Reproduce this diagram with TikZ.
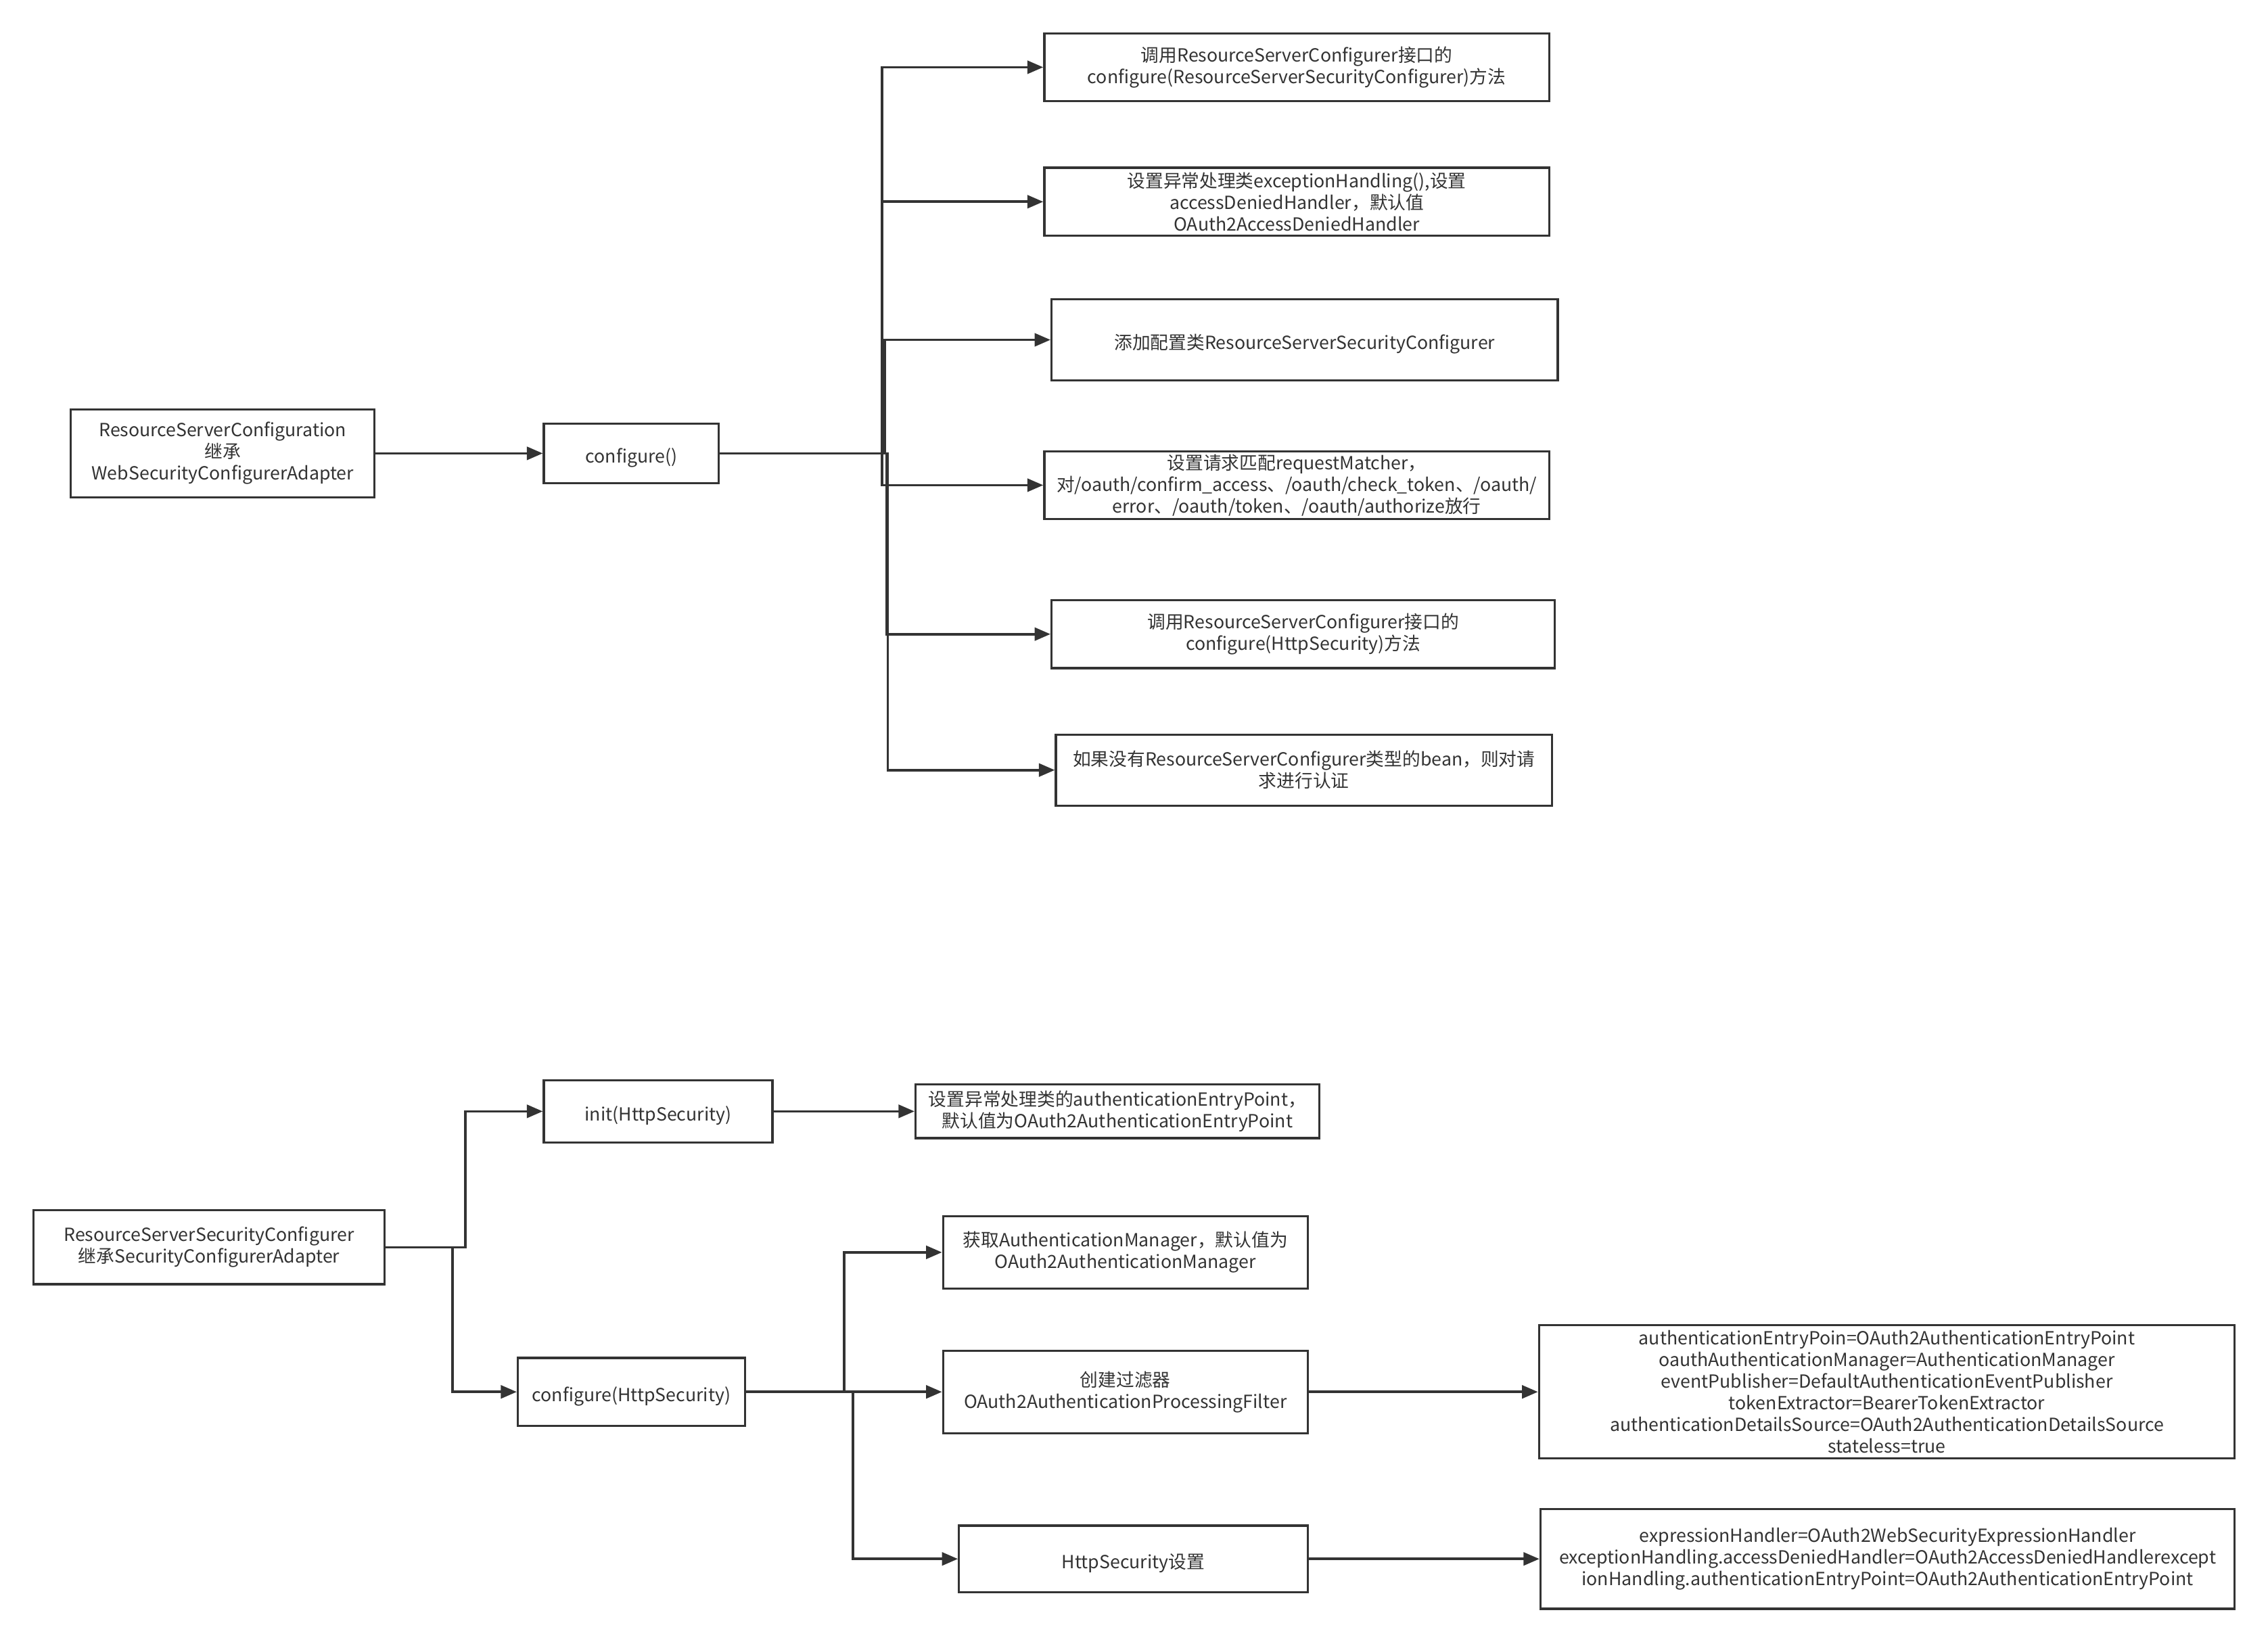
\documentclass[tikz,border=0pt]{standalone}
\usepackage{fontspec}
\setmainfont{Noto Sans CJK SC}
\usetikzlibrary{arrows.meta,positioning}
\definecolor{ink}{RGB}{51,51,51}

\begin{document}
\begin{tikzpicture}[
  x=1pt, y=-1pt,
  every node/.style={font=\fontsize{12.5}{15}\selectfont, text=ink},
  box/.style={draw=ink, line width=1.5pt, align=center, inner sep=0pt,
    execute at begin node={\rule{0pt}{16pt}}},
  link/.style={-{Triangle[length=11pt,width=9pt]}, draw=ink, line width=1.7pt}
]
\useasboundingbox (0,0) rectangle (1568,1138);

% upper part
\node[box, minimum width=210, minimum height=61] (rsc) at (154,313.5)
  {ResourceServerConfiguration\\继承\\WebSecurityConfigurerAdapter};
\node[box, minimum width=121, minimum height=41] (cfg) at (436.5,313.5) {configure()};
\node[box, minimum width=349, minimum height=47] (t1) at (896.5,46.5)
  {调用ResourceServerConfigurer接口的\\configure(ResourceServerSecurityConfigurer)方法};
\node[box, minimum width=349, minimum height=47] (t2) at (896.5,139.5)
  {设置异常处理类exceptionHandling(),设置\\accessDeniedHandler，默认值\\OAuth2AccessDeniedHandler};
\node[box, minimum width=350, minimum height=56] (t3) at (902,235)
  {添加配置类ResourceServerSecurityConfigurer};
\node[box, minimum width=349, minimum height=47] (t4) at (896.5,335.5)
  {设置请求匹配requestMatcher，\\对/oauth/confirm\_access、/oauth/check\_token、/oauth/\\error、/oauth/token、/oauth/authorize放行};
\node[box, minimum width=348, minimum height=47] (t5) at (901,438.5)
  {调用ResourceServerConfigurer接口的\\configure(HttpSecurity)方法};
\node[box, minimum width=343, minimum height=49] (t6) at (901.5,532.5)
  {如果没有ResourceServerConfigurer类型的bean，则对请\\求进行认证};

\draw[link] (rsc) -- (cfg);
\draw[link] (cfg.east) -- ++(112,0) |- (t1.west);
\draw[link] (cfg.east) -- ++(112,0) |- (t2.west);
\draw[link] (cfg.east) -- ++(114,0) |- (t3.west);
\draw[link] (cfg.east) -- ++(112,0) |- (t4.west);
\draw[link] (cfg.east) -- ++(115,0) |- (t5.west);
\draw[link] (cfg.east) -- ++(116,0) |- (t6.west);

% lower part
\node[box, minimum width=243, minimum height=51] (rssc) at (144.5,862.5)
  {ResourceServerSecurityConfigurer\\继承SecurityConfigurerAdapter};
\node[box, minimum width=158, minimum height=43] (init) at (455,768.5) {init(HttpSecurity)};
\node[box, minimum width=279, minimum height=37] (initR) at (772.5,768.5)
  {设置异常处理类的authenticationEntryPoint，\\默认值为OAuth2AuthenticationEntryPoint};
\node[box, minimum width=157, minimum height=47] (chs) at (436.5,962.5) {configure(HttpSecurity)};
\node[box, minimum width=252, minimum height=50] (am) at (778,866)
  {获取AuthenticationManager，默认值为\\OAuth2AuthenticationManager};
\node[box, minimum width=252, minimum height=57] (filt) at (778,962.5)
  {创建过滤器\\OAuth2AuthenticationProcessingFilter};
\node[box, minimum width=241, minimum height=46] (hs) at (783.5,1078) {HttpSecurity设置};
\node[box, minimum width=481, minimum height=92] (fprops) at (1304.5,962.5)
  {authenticationEntryPoin=OAuth2AuthenticationEntryPoint\\
   oauthAuthenticationManager=AuthenticationManager\\
   eventPublisher=DefaultAuthenticationEventPublisher\\
   tokenExtractor=BearerTokenExtractor\\
   authenticationDetailsSource=OAuth2AuthenticationDetailsSource\\
   stateless=true};
\node[box, minimum width=480, minimum height=69] (hprops) at (1305,1078)
  {expressionHandler=OAuth2WebSecurityExpressionHandler\\
   exceptionHandling.accessDeniedHandler=OAuth2AccessDeniedHandlerexcept\\
   ionHandling.authenticationEntryPoint=OAuth2AuthenticationEntryPoint};

\draw[link] (rssc.east) -- ++(55,0) |- (init.west);
\draw[link] (rssc.east) -- ++(46,0) |- (chs.west);
\draw[link] (init) -- (initR);
\draw[link] (chs.east) -- ++(68,0) |- (am.west);
\draw[link] (chs) -- (filt);
\draw[link] (chs.east) -- ++(74,0) |- (hs.west);
\draw[link] (filt) -- (fprops);
\draw[link] (hs) -- (hprops);
\end{tikzpicture}
\end{document}
